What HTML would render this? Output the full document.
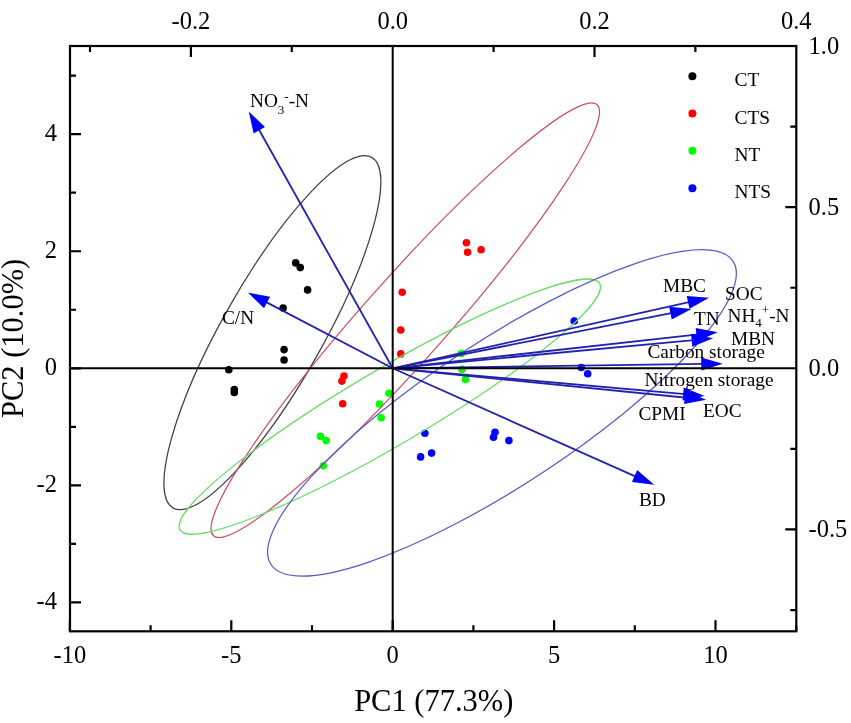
<!DOCTYPE html><html><head><meta charset="utf-8"><style>
html,body{margin:0;padding:0;background:#fff;}
svg{display:block;will-change:transform;}
text{font-family:"Liberation Serif",serif;fill:#000;}
</style></head><body>
<svg width="851" height="723" viewBox="0 0 851 723">
<rect width="851" height="723" fill="#fff"/>
<circle cx="295.7" cy="262.9" r="3.8" fill="#000"/>
<circle cx="300.3" cy="267.6" r="3.8" fill="#000"/>
<circle cx="307.6" cy="289.9" r="3.8" fill="#000"/>
<circle cx="283.1" cy="308.1" r="3.8" fill="#000"/>
<circle cx="284.1" cy="349.6" r="3.8" fill="#000"/>
<circle cx="284.1" cy="360" r="3.8" fill="#000"/>
<circle cx="228.8" cy="369.8" r="3.8" fill="#000"/>
<circle cx="234.3" cy="389.6" r="3.8" fill="#000"/>
<circle cx="234.3" cy="392.5" r="3.8" fill="#000"/>
<circle cx="466.4" cy="242.8" r="3.8" fill="#f00"/>
<circle cx="467.6" cy="252.2" r="3.8" fill="#f00"/>
<circle cx="481.1" cy="249.7" r="3.8" fill="#f00"/>
<circle cx="402.2" cy="292.2" r="3.8" fill="#f00"/>
<circle cx="400.8" cy="330" r="3.8" fill="#f00"/>
<circle cx="400.8" cy="353.9" r="3.8" fill="#f00"/>
<circle cx="344" cy="376.1" r="3.8" fill="#f00"/>
<circle cx="341.9" cy="381.1" r="3.8" fill="#f00"/>
<circle cx="342.7" cy="403.7" r="3.8" fill="#f00"/>
<circle cx="388.9" cy="393.2" r="3.8" fill="#0f0"/>
<circle cx="379.4" cy="404" r="3.8" fill="#0f0"/>
<circle cx="381.1" cy="417.8" r="3.8" fill="#0f0"/>
<circle cx="320.4" cy="436.4" r="3.8" fill="#0f0"/>
<circle cx="326.1" cy="440.6" r="3.8" fill="#0f0"/>
<circle cx="323.3" cy="465.8" r="3.8" fill="#0f0"/>
<circle cx="461.2" cy="353.5" r="3.8" fill="#0f0"/>
<circle cx="462" cy="369.2" r="3.8" fill="#0f0"/>
<circle cx="465.5" cy="379.4" r="3.8" fill="#0f0"/>
<circle cx="424.9" cy="433.2" r="3.8" fill="#00f"/>
<circle cx="431.6" cy="453.1" r="3.8" fill="#00f"/>
<circle cx="420.6" cy="456.9" r="3.8" fill="#00f"/>
<circle cx="495" cy="432.2" r="3.8" fill="#00f"/>
<circle cx="493.5" cy="437.2" r="3.8" fill="#00f"/>
<circle cx="508.9" cy="440.6" r="3.8" fill="#00f"/>
<circle cx="574.2" cy="321" r="3.8" fill="#00f"/>
<circle cx="581.3" cy="367.5" r="3.8" fill="#00f"/>
<circle cx="587.7" cy="373.8" r="3.8" fill="#00f"/>
<ellipse cx="272.38" cy="332.65" rx="201.50" ry="50.20" transform="rotate(119.53 272.38 332.65)" fill="none" stroke="#404040" stroke-width="1.25"/>
<ellipse cx="405.28" cy="320.19" rx="288.53" ry="41.39" transform="rotate(131.66 405.28 320.19)" fill="none" stroke="#cc5060" stroke-width="1.25"/>
<ellipse cx="389.77" cy="406.66" rx="243.32" ry="38.00" transform="rotate(149.57 389.77 406.66)" fill="none" stroke="#66dd66" stroke-width="1.25"/>
<ellipse cx="501.97" cy="412.83" rx="276.35" ry="72.25" transform="rotate(146.71 501.97 412.83)" fill="none" stroke="#5a5ac6" stroke-width="1.25"/>
<line x1="392.7" y1="368.3" x2="258.33" y2="128.51" stroke="#2222b0" stroke-width="1.8"/>
<polygon points="248.80,111.50 264.98,127.08 253.64,133.43" fill="#0000ff"/>
<line x1="392.7" y1="368.3" x2="265.28" y2="301.64" stroke="#2222b0" stroke-width="1.8"/>
<polygon points="248.00,292.60 270.06,296.81 264.04,308.33" fill="#0000ff"/>
<line x1="392.7" y1="368.3" x2="690.07" y2="301.95" stroke="#2222b0" stroke-width="1.8"/>
<polygon points="709.10,297.70 689.53,308.73 686.70,296.04" fill="#0000ff"/>
<line x1="392.7" y1="368.3" x2="672.37" y2="312.80" stroke="#2222b0" stroke-width="1.8"/>
<polygon points="691.50,309.00 671.68,319.56 669.15,306.81" fill="#0000ff"/>
<line x1="392.7" y1="368.3" x2="698.42" y2="334.35" stroke="#2222b0" stroke-width="1.8"/>
<polygon points="717.80,332.20 697.15,341.03 695.71,328.11" fill="#0000ff"/>
<line x1="392.7" y1="368.3" x2="693.68" y2="340.12" stroke="#2222b0" stroke-width="1.8"/>
<polygon points="713.10,338.30 692.30,346.78 691.09,333.83" fill="#0000ff"/>
<line x1="392.7" y1="368.3" x2="703.30" y2="363.97" stroke="#2222b0" stroke-width="1.8"/>
<polygon points="722.80,363.70 701.39,370.50 701.21,357.50" fill="#0000ff"/>
<line x1="392.7" y1="368.3" x2="685.18" y2="394.18" stroke="#2222b0" stroke-width="1.8"/>
<polygon points="704.60,395.90 682.61,400.48 683.76,387.53" fill="#0000ff"/>
<line x1="392.7" y1="368.3" x2="686.70" y2="397.76" stroke="#2222b0" stroke-width="1.8"/>
<polygon points="706.10,399.70 684.06,404.02 685.36,391.09" fill="#0000ff"/>
<line x1="392.7" y1="368.3" x2="636.39" y2="476.86" stroke="#2222b0" stroke-width="1.8"/>
<polygon points="654.20,484.80 631.92,481.99 637.21,470.11" fill="#0000ff"/>
<line x1="70" y1="368.3" x2="796.3" y2="368.3" stroke="#000" stroke-width="2"/>
<line x1="392.7" y1="46" x2="392.7" y2="631.3" stroke="#000" stroke-width="2"/>
<rect x="70" y="46" width="726.3" height="585.3" fill="none" stroke="#000" stroke-width="2.2"/>
<path d="M69.90 631.3 V620.3 M150.60 631.3 V625.3 M231.30 631.3 V620.3 M312.00 631.3 V625.3 M392.70 631.3 V620.3 M473.40 631.3 V625.3 M554.10 631.3 V620.3 M634.80 631.3 V625.3 M715.50 631.3 V620.3 M796.20 631.3 V625.3 M70 602.42 H81 M70 543.89 H76 M70 485.36 H81 M70 426.83 H76 M70 368.30 H81 M70 309.77 H76 M70 251.24 H81 M70 192.71 H76 M70 134.18 H81 M70 75.65 H76 M90.00 46 V52 M190.90 46 V57 M291.80 46 V52 M493.60 46 V52 M594.50 46 V57 M695.40 46 V52 M796.3 126.57 H790.3 M796.3 207.15 H785.3 M796.3 287.73 H790.3 M796.3 448.88 H790.3 M796.3 529.45 H785.3 M796.3 610.03 H790.3" stroke="#000" stroke-width="2.2" fill="none"/>
<text x="69.90" y="663" font-size="24.5" text-anchor="middle">-10</text>
<text x="231.30" y="663" font-size="24.5" text-anchor="middle">-5</text>
<text x="392.70" y="663" font-size="24.5" text-anchor="middle">0</text>
<text x="554.10" y="663" font-size="24.5" text-anchor="middle">5</text>
<text x="715.50" y="663" font-size="24.5" text-anchor="middle">10</text>
<text x="57" y="141.18" font-size="24.5" text-anchor="end">4</text>
<text x="57" y="258.24" font-size="24.5" text-anchor="end">2</text>
<text x="57" y="375.30" font-size="24.5" text-anchor="end">0</text>
<text x="57" y="492.36" font-size="24.5" text-anchor="end">-2</text>
<text x="57" y="609.42" font-size="24.5" text-anchor="end">-4</text>
<text x="190.90" y="28.5" font-size="24.5" text-anchor="middle">-0.2</text>
<text x="392.70" y="28.5" font-size="24.5" text-anchor="middle">0.0</text>
<text x="594.50" y="28.5" font-size="24.5" text-anchor="middle">0.2</text>
<text x="796.30" y="28.5" font-size="24.5" text-anchor="middle">0.4</text>
<text x="808.5" y="53.80" font-size="24.5">1.0</text>
<text x="808.5" y="214.95" font-size="24.5">0.5</text>
<text x="808.5" y="376.10" font-size="24.5">0.0</text>
<text x="808.5" y="537.25" font-size="24.5">-0.5</text>
<text x="433.8" y="710.5" font-size="30.5" text-anchor="middle">PC1 (77.3%)</text>
<text transform="translate(23 338.4) rotate(-90)" font-size="30.5" text-anchor="middle">PC2 (10.0%)</text>
<circle cx="692.4" cy="76.20" r="4" fill="#000"/>
<text x="734.5" y="86.40" font-size="19.4">CT</text>
<circle cx="692.4" cy="113.53" r="4" fill="#f00"/>
<text x="734.5" y="123.73" font-size="19.4">CTS</text>
<circle cx="692.4" cy="150.86" r="4" fill="#0f0"/>
<text x="734.5" y="161.06" font-size="19.4">NT</text>
<circle cx="692.4" cy="188.19" r="4" fill="#00f"/>
<text x="734.5" y="198.39" font-size="19.4">NTS</text>
<text x="250" y="107.2" font-size="19.3">NO<tspan font-size="13" dy="6.5">3</tspan><tspan font-size="13" dy="-12.5">-</tspan><tspan dy="6">-N</tspan></text>
<text x="222" y="324.1" font-size="19.3">C/N</text>
<text x="663" y="292.4" font-size="19.3">MBC</text>
<text x="725" y="300.3" font-size="19.3">SOC</text>
<text x="694" y="324.6" font-size="19.3">TN</text>
<text x="727.5" y="322" font-size="19.3">NH<tspan font-size="13" dy="5">4</tspan><tspan font-size="13" dy="-13">+</tspan><tspan dy="8">-N</tspan></text>
<text x="731" y="344.7" font-size="19.3">MBN</text>
<text x="647.5" y="358.2" font-size="19.3">Carbon storage</text>
<text x="644.5" y="386" font-size="19.3">Nitrogen storage</text>
<text x="638.5" y="420.2" font-size="19.3">CPMI</text>
<text x="703" y="416.9" font-size="19.3">EOC</text>
<text x="639" y="506.4" font-size="19.3">BD</text>
</svg></body></html>
